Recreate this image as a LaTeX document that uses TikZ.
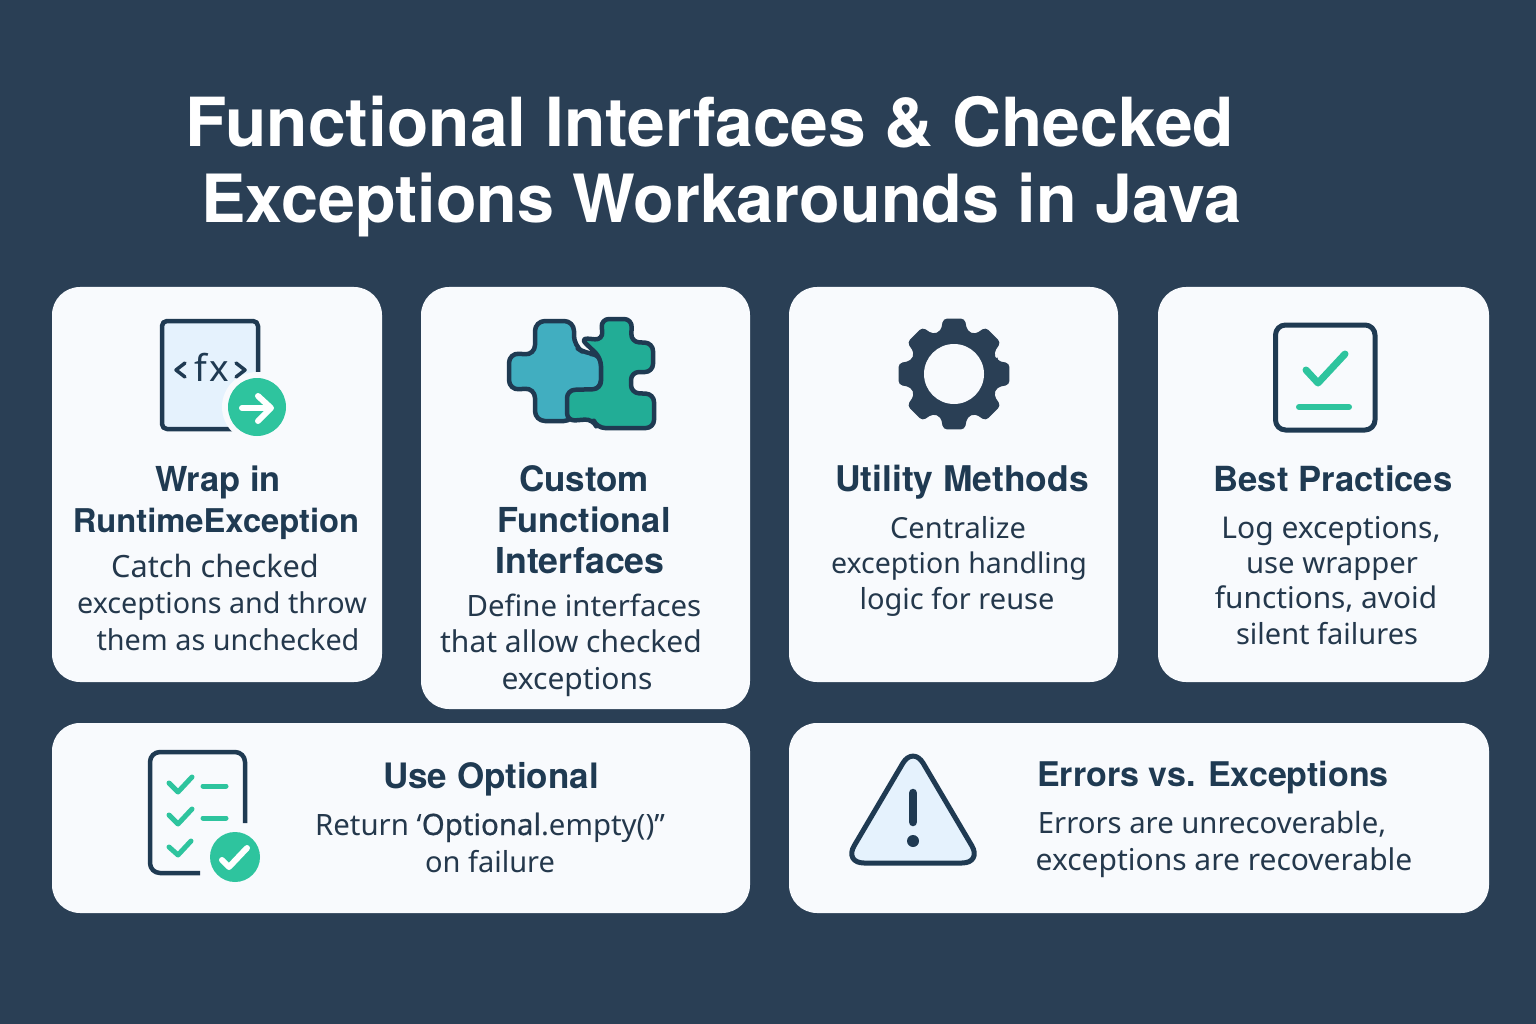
\documentclass[tikz,border=0pt]{standalone}
\usepackage{fontspec}
\setmainfont{Noto Sans}
\newfontfamily\headfont{TeX Gyre Heros}
\newfontfamily\medfont[FakeBold=0.7]{Noto Sans}
\definecolor{bgc}{HTML}{2A3F55}
\definecolor{cardc}{HTML}{F8FAFD}
\definecolor{inkc}{HTML}{1F3A52}
\definecolor{bodyc}{HTML}{24384C}
\definecolor{tealc}{HTML}{2EC49E}
\definecolor{paleblue}{HTML}{E5F2FD}
\definecolor{piecea}{HTML}{41AEC0}
\definecolor{pieceb}{HTML}{22AD96}
\tikzset{
  card/.style={fill=cardc,draw=none,rounded corners=28pt},
  ttl/.style={anchor=base,inner sep=0pt,text=white,font=\headfont\fontsize{#1}{70}\selectfont\bfseries},
  hd/.style={anchor=base,inner sep=0pt,text=inkc,font=\headfont\fontsize{#1}{36}\selectfont\bfseries},
  hd/.default=34.7,
  bd/.style={anchor=base,inner sep=0pt,text=bodyc,font=\fontsize{#1}{32}\selectfont},
  bd/.default=29,
  ink/.style={draw=inkc,line width=4.5pt,line join=round,line cap=round},
  tick/.style={draw=tealc,line width=6pt,line cap=round,line join=round},
  wtick/.style={draw=white,line width=6pt,line cap=round,line join=round}
}
\begin{document}
\begin{tikzpicture}[x=1pt,y=-1pt]
\useasboundingbox (0,0) rectangle (1536,1024);
\fill[bgc] (0,0) rectangle (1536,1024);
% title
\node[ttl=67.7] (t1) at (710,147) {Functional Interfaces \& Checked};
\node[ttl=66.5] (t2) at (721,223) {Exceptions Workarounds in Java};
% cards
\fill[card] (52,287) rectangle (382,682);
\fill[card] (421,287) rectangle (750,709);
\fill[card] (789,287) rectangle (1118,682);
\fill[card] (1158,287) rectangle (1489,682);
\fill[card] (52,723) rectangle (750,913);
\fill[card] (789,723) rectangle (1489,913);
% fx icon
\draw[ink,fill=paleblue,rounded corners=5pt] (162,321) rectangle (258,429);
\fill[cardc] (257,407) circle (35);
\node[anchor=base,inner sep=0pt,text=inkc,font=\fontsize{37}{38}\selectfont] (fx) at (212,381) {f\kern2pt x};
\draw[ink,line width=3.5pt] (185,363) -- (176,370) -- (185,377);
\draw[ink,line width=3.5pt] (236,363) -- (245,370) -- (236,377);
\fill[tealc] (257,407) circle (29);
\draw[wtick] (242,408) -- (270,408);
\draw[wtick] (258,396) -- (271,408) -- (258,421);
% puzzle
\draw[ink,fill=piecea,rounded corners=10pt] (535,321) -- (574,321) -- (574,346) -- (586,354) -- (601,354) -- (601,390) -- (574,390) -- (574,421) -- (535,421) -- (535,388) -- (509,390) -- (509,353) -- (535,355) -- cycle;
\draw[ink,fill=pieceb,rounded corners=8pt] (580,338) -- (603,340) -- (601,319) -- (632,319) -- (631,342) -- (653,343) -- (653,372) -- (631,372) -- (631,393) -- (654,394) -- (654,428) -- (597,428) -- (593,419) -- (567,421) -- (567,390) -- (601,389) -- (601,358) -- cycle;
% gear
\begin{scope}[shift={(954,374)}]
\fill[bgc,rounded corners=4pt] (-17:45)
  \foreach \a in {0,45,...,315} { -- (\a-17:45) -- (\a-11:56.5) -- (\a+11:56.5) -- (\a+17:45) } -- cycle;
\fill[cardc] (0,0) circle (30);
\end{scope}
% best practice
\draw[ink,line width=5pt,rounded corners=10pt] (1275.5,325) rectangle (1375,430);
\draw[tick,line width=7pt] (1306,370) -- (1318,383) -- (1345,354);
\draw[tick] (1299,407) -- (1349,407);
% checklist
\draw[ink,rounded corners=10pt,line cap=butt] (245,823) -- (245,752) -- (150,752) -- (150,873) -- (200,873);
\draw[tick,line width=5pt] (169,783) -- (178,792) -- (192,777);
\draw[tick,line width=5pt] (203,786) -- (226,786);
\draw[tick,line width=5pt] (169,815) -- (178,824) -- (192,809);
\draw[tick,line width=5pt] (203,818) -- (226,818);
\draw[tick,line width=5pt] (169,847) -- (178,855) -- (191,841);
\fill[tealc] (235,857) circle (25);
\draw[wtick] (222,860) -- (229,867) -- (247,848);
% warning
\draw[ink,fill=paleblue,line width=5pt,rounded corners=20pt] (913,746) -- (982,863) -- (844,863) -- cycle;
\draw[draw=inkc,line width=8.5pt,line cap=round] (913,793) -- (913,822);
\fill[inkc] (913,841) circle (6);
% card 1
\node[hd=34.4] (a1) at (218,491) {Wrap in};
\node[hd=32.7] (a2) at (216,532) {RuntimeException};
\node[bd=30.7] (a3) at (215,577) {Catch checked};
\node[bd=28.7] (a4) at (222,613) {exceptions and throw};
\node[bd=28.8] (a5) at (228,650) {them as unchecked};
% card 2
\node[hd=35] (b1) at (584,491) {Custom};
\node[hd=34.4] (b2) at (584,532) {Functional};
\node[hd=35.7] (b3) at (580,573) {Interfaces};
\node[bd=29.4] (b4) at (584,616) {Define interfaces};
\node[bd=30] (b5) at (571,652) {that allow checked};
\node[bd=30] (b6) at (577,689) {exceptions};
% card 3
\node[hd=35.4] (c1) at (962,491) {Utility Methods};
\node[bd] (c2) at (958,538) {Centralize};
\node[bd=28.5] (c3) at (959,573) {exception handling};
\node[bd] (c4) at (957,609) {logic for reuse};
% card 4
\node[hd=34.6] (d1) at (1333,491) {Best Practices};
\node[bd=30] (d2) at (1331,538) {Log exceptions,};
\node[bd=29.3] (d3) at (1332,573) {use wrapper};
\node[bd=29.8] (d4) at (1326,608) {functions, avoid};
\node[bd] (d5) at (1327,644) {silent failures};
% card 5
\node[hd=35] (e1) at (491,788) {Use Optional};
\node[bd=29.4] (e2) at (490,835) {Return ‘{\medfont Optional}.empty()”};
\node[bd] (e3) at (490,872) {on failure};
% card 6
\node[hd=34] (f1) at (1213,786) {Errors vs. Exceptions};
\node[bd=29.3] (f2) at (1212,833) {Errors are unrecoverable,};
\node[bd=30] (f3) at (1224,870) {exceptions are recoverable};
\end{tikzpicture}
\end{document}
